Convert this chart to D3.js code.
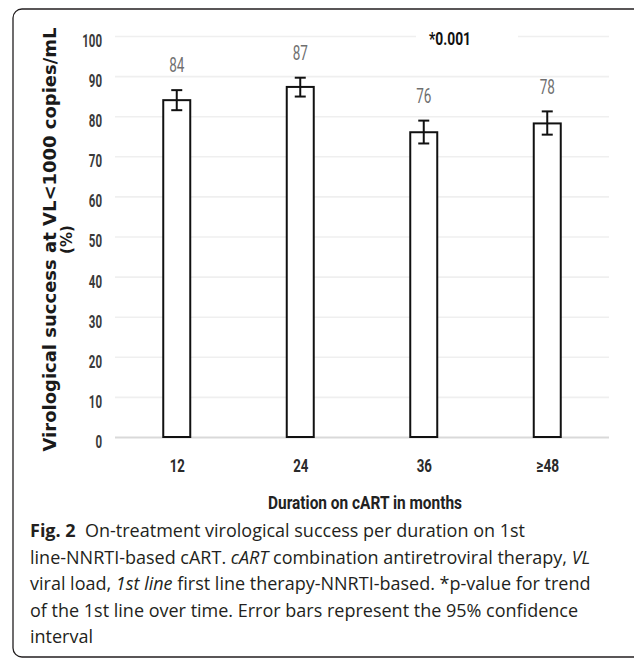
<!DOCTYPE html>
<html>
<head>
<meta charset="utf-8">
<script src="https://cdn.jsdelivr.net/npm/d3@7"></script>
<style>
  body { margin: 0; background: #fff; }
  .narrow { font-family: Roboto, "Liberation Sans", sans-serif; }
  .caption { font-family: "Open Sans", "Noto Sans", sans-serif; fill: #231f20; }
</style>
</head>
<body>
<div id="chart"></div>
<script>
// data
const categories = ["12", "24", "36", "≥48"];
const values = [84, 87.3, 76, 78.2];
const valueLabels = ["84", "87", "76", "78"];
const ciLow = [81.5, 84.9, 73.2, 75.4];
const ciHigh = [86.5, 89.6, 78.9, 81.2];
const yTicks = [0, 10, 20, 30, 40, 50, 60, 70, 80, 90, 100];

const width = 634, height = 658;
const margin = { top: 36, right: 25, bottom: 221, left: 115 };

const svg = d3.select("#chart").append("svg")
  .attr("width", width)
  .attr("height", height);

// squeeze text to a narrow, Calibri-like width
function squeeze(sel, perChar) {
  sel.each(function () {
    const n = this.textContent.length;
    d3.select(this)
      .attr("textLength", n * perChar)
      .attr("lengthAdjust", "spacingAndGlyphs");
  });
}

// frame
svg.append("rect")
  .attr("x", 13).attr("y", 9)
  .attr("width", 634).attr("height", 648)
  .attr("rx", 9)
  .attr("fill", "none")
  .attr("stroke", "#231f20")
  .attr("stroke-width", 1.3);

// scales
const x = d3.scalePoint()
  .domain(categories)
  .range([margin.left, width - margin.right])
  .padding(0.5);

const y = d3.scaleLinear()
  .domain([0, 100])
  .range([height - margin.bottom, margin.top]);

const barW = 27;

// gridlines + y ticks
const yAxis = d3.axisLeft(y)
  .tickValues(yTicks)
  .tickSize(-(width - margin.right - margin.left))
  .tickPadding(13)
  .tickFormat(d3.format("d"));

const gy = svg.append("g")
  .attr("transform", `translate(${margin.left},0)`)
  .call(yAxis);
gy.select(".domain").remove();
gy.selectAll(".tick line")
  .attr("stroke", (d) => (d === 0 ? "#d9d9d9" : "#efefef"))
  .attr("stroke-width", (d) => (d === 0 ? 2.2 : 1.6));
gy.selectAll(".tick text")
  .attr("class", "narrow")
  .attr("dy", "0.36em")
  .attr("y", 4)
  .style("font-size", "18px")
  .style("font-weight", "bold")
  .attr("fill", "#3a3a3a")
  .call(squeeze, 6.6);

// x axis labels
const xAxis = d3.axisBottom(x).tickSize(0).tickPadding(22);
const gx = svg.append("g")
  .attr("transform", `translate(0,${y(0)})`)
  .call(xAxis);
gx.select(".domain").remove();
gx.selectAll(".tick text")
  .attr("class", "narrow")
  .style("font-size", "19px")
  .style("font-weight", "bold")
  .attr("fill", "#2a2a2a")
  .call(squeeze, 7.6);

// bars
svg.selectAll(".bar")
  .data(values)
  .enter()
  .append("rect")
  .attr("class", "bar")
  .attr("x", (d, i) => x(categories[i]) - barW / 2)
  .attr("y", (d) => y(d))
  .attr("width", barW)
  .attr("height", (d) => y(0) - y(d))
  .attr("fill", "#fff")
  .attr("stroke", "#111")
  .attr("stroke-width", 2);

// error bars
const err = svg.selectAll(".err")
  .data(values)
  .enter()
  .append("g")
  .attr("class", "err")
  .attr("stroke", "#111")
  .attr("stroke-width", 2);
err.append("line")
  .attr("x1", (d, i) => x(categories[i]))
  .attr("x2", (d, i) => x(categories[i]))
  .attr("y1", (d, i) => y(ciLow[i]))
  .attr("y2", (d, i) => y(ciHigh[i]));
err.append("line")
  .attr("x1", (d, i) => x(categories[i]) - 5.5)
  .attr("x2", (d, i) => x(categories[i]) + 5.5)
  .attr("y1", (d, i) => y(ciHigh[i]))
  .attr("y2", (d, i) => y(ciHigh[i]));
err.append("line")
  .attr("x1", (d, i) => x(categories[i]) - 5.5)
  .attr("x2", (d, i) => x(categories[i]) + 5.5)
  .attr("y1", (d, i) => y(ciLow[i]))
  .attr("y2", (d, i) => y(ciLow[i]));

// value labels
svg.selectAll(".val")
  .data(valueLabels)
  .enter()
  .append("text")
  .attr("class", "narrow")
  .attr("x", (d, i) => x(categories[i]))
  .attr("y", (d, i) => y(ciHigh[i]) - 25)
  .attr("dy", "0.36em")
  .attr("text-anchor", "middle")
  .style("font-size", "20px")
  .attr("fill", "#6f6f6f")
  .text((d) => d)
  .call(squeeze, 7.6);

// p-value box
svg.append("rect")
  .attr("x", 416).attr("y", 26)
  .attr("width", 102).attr("height", 22)
  .attr("fill", "#fff");
svg.append("text")
  .attr("class", "narrow")
  .attr("x", 450)
  .attr("y", 38)
  .attr("dy", "0.36em")
  .attr("text-anchor", "middle")
  .style("font-size", "19px")
  .style("font-weight", "bold")
  .attr("fill", "#111")
  .text("*0.001")
  .call(squeeze, 7);

// y title
const yMid = (y(0) + y(100)) / 2;
svg.append("text")
  .attr("transform", `translate(50,${yMid + 3}) rotate(-90)`)
  .attr("text-anchor", "middle")
  .attr("dy", "0.35em")
  .attr("textLength", 424)
  .attr("lengthAdjust", "spacingAndGlyphs")
  .style("font-family", "'DejaVu Sans', Verdana, sans-serif")
  .style("font-weight", "bold")
  .style("font-size", "17px")
  .attr("fill", "#1a1a1a")
  .text("Virological success at VL<1000 copies/mL");
svg.append("text")
  .attr("transform", `translate(67,${yMid + 3}) rotate(-90)`)
  .attr("text-anchor", "middle")
  .attr("dy", "0.35em")
  .style("font-family", "'DejaVu Sans', Verdana, sans-serif")
  .style("font-weight", "bold")
  .style("font-size", "15px")
  .attr("fill", "#1a1a1a")
  .text("(%)");

// x title
svg.append("text")
  .attr("class", "narrow")
  .attr("x", 365)
  .attr("y", 502)
  .attr("dy", "0.36em")
  .attr("text-anchor", "middle")
  .attr("textLength", 194)
  .attr("lengthAdjust", "spacingAndGlyphs")
  .style("font-size", "19px")
  .style("font-weight", "bold")
  .attr("fill", "#222")
  .text("Duration on cART in months");

// caption
const capX = 30, capY = 537, capStep = 26.6;
const capLines = [
  [["Fig. 2", "bold"], ["  On-treatment virological success per duration on 1st", ""]],
  [["line-NNRTI-based cART. ", ""], ["cART", "italic"], [" combination antiretroviral therapy, ", ""], ["VL", "italic"]],
  [["viral load, ", ""], ["1st line", "italic"], [" first line therapy-NNRTI-based. *p-value for trend", ""]],
  [["of the 1st line over time. Error bars represent the 95% confidence", ""]],
  [["interval", ""]]
];
capLines.forEach((parts, li) => {
  const t = svg.append("text")
    .attr("class", "caption")
    .attr("x", capX)
    .attr("y", capY + li * capStep)
    .style("font-size", "18px")
    .attr("xml:space", "preserve");
  parts.forEach(([txt, st]) => {
    const s = t.append("tspan").text(txt);
    if (st === "bold") s.style("font-weight", "bold");
    if (st === "italic") s.style("font-style", "italic");
  });
});
</script>
</body>
</html>
